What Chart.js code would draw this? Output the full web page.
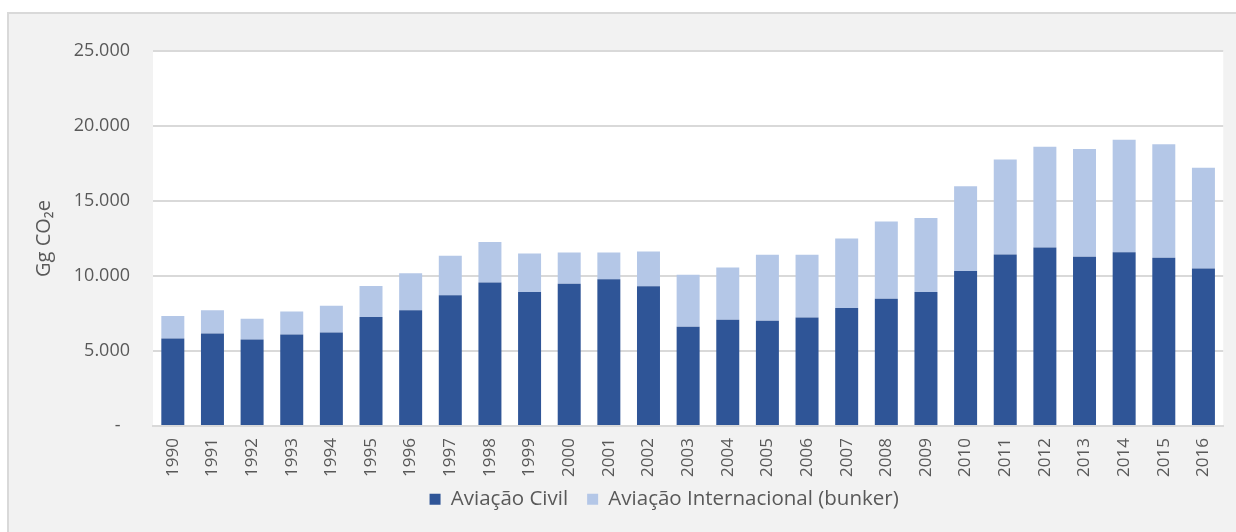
<!DOCTYPE html>
<html>
<head>
<meta charset="utf-8">
<script src="https://cdn.jsdelivr.net/npm/chart.js@4"></script>
<style>
  html, body { margin: 0; padding: 0; background: #ffffff; }
  #frame {
    position: absolute; left: 7px; top: 12px;
    width: 1227px; height: 518px;
    border-left: 2px solid #d9d9d9; border-top: 2px solid #d9d9d9;
    background: #f2f2f2;
  }
  #wrap { position: relative; width: 1227px; height: 515px; margin-top: 3px; }
</style>
</head>
<body>
<div id="frame"><div id="wrap"><canvas id="aviacaoChart"></canvas></div></div>
<script>
const years = ["1990","1991","1992","1993","1994","1995","1996","1997","1998","1999","2000","2001","2002","2003","2004","2005","2006","2007","2008","2009","2010","2011","2012","2013","2014","2015","2016"];
// Gg CO2e
const civil = [5840, 6170, 5770, 6100, 6240, 7260, 7710, 8710, 9560, 8940, 9490, 9790, 9320, 6610, 7080, 7010, 7240, 7860, 8490, 8940, 10340, 11430, 11900, 11280, 11590, 11210, 10500];
const international = [1490, 1540, 1380, 1540, 1780, 2080, 2480, 2640, 2700, 2560, 2080, 1780, 2310, 3480, 3480, 4400, 4170, 4640, 5150, 4930, 5640, 6340, 6720, 7180, 7500, 7570, 6710];
const seriesNames = ["Aviação Civil", "Aviação Internacional (bunker)"];
const yTicks = [0, 5000, 10000, 15000, 20000, 25000];

const textColor = "#595959";
const gridColor = "#d9d9d9";
const font = "'Open Sans', 'Noto Sans', sans-serif";

// fundo branco só na área do gráfico
const plotBackground = {
  id: "plotBackground",
  beforeDraw(chart) {
    const { ctx, chartArea } = chart;
    ctx.save();
    ctx.fillStyle = "#ffffff";
    ctx.fillRect(chartArea.left, chartArea.top, chartArea.right - chartArea.left, chartArea.bottom - chartArea.top);
    ctx.restore();
  },
};

// legenda um pouco à esquerda e mais perto dos rótulos, como no original
const legendShift = {
  id: "legendShift",
  afterLayout(chart) {
    const l = chart.legend;
    if (l) {
      l.left -= 24;
      l.right -= 24;
      l.top -= 8;
      l.bottom -= 8;
    }
  },
};

const data = {
  labels: years,
  datasets: [
    {
      label: seriesNames[0],
      data: civil,
      backgroundColor: "#2f5597",
      barPercentage: 0.58,
      categoryPercentage: 1,
    },
    {
      label: seriesNames[1],
      data: international,
      backgroundColor: "#b4c7e7",
      barPercentage: 0.58,
      categoryPercentage: 1,
    },
  ],
};

const config = {
  type: "bar",
  data: data,
  plugins: [plotBackground, legendShift],
  options: {
    responsive: true,
    maintainAspectRatio: false,
    animation: false,
    layout: { padding: { left: 20, right: 9, top: 34, bottom: 4.5 } },
    scales: {
      x: {
        stacked: true,
        grid: { display: false, drawTicks: false },
        border: { display: true, color: gridColor, width: 2 },
        ticks: {
          color: textColor,
          font: { family: font, size: 17 },
          minRotation: 90,
          maxRotation: 90,
          padding: 12,
        },
        afterFit(scale) {
          scale.height = 52;
        },
      },
      y: {
        stacked: true,
        min: 0,
        max: 25000,
        afterBuildTicks(scale) {
          scale.ticks = yTicks.map((v) => ({ value: v }));
        },
        grid: { color: gridColor, lineWidth: 2, drawTicks: false },
        border: { display: false },
        ticks: {
          color: textColor,
          font: { family: font, size: 18 },
          padding: 23,
          callback: function (value) {
            return value === 0 ? "-  " : (value / 1000).toFixed(3);
          },
        },
        title: {
          display: true,
          text: "Gg CO₂e",
          color: textColor,
          font: { family: font, size: 20 },
          padding: { top: 3, bottom: 0 },
        },
        afterFit(scale) {
          scale.width = 124;
        },
      },
    },
    plugins: {
      legend: {
        position: "bottom",
        fullSize: false,
        labels: {
          color: textColor,
          font: { family: font, size: 20.5 },
          boxWidth: 11,
          boxHeight: 11,
          padding: 19,
        },
      },
      tooltip: { enabled: false },
    },
  },
};

const ctx = document.getElementById("aviacaoChart").getContext("2d");
const aviacaoChart = new Chart(ctx, config);
</script>
</body>
</html>
